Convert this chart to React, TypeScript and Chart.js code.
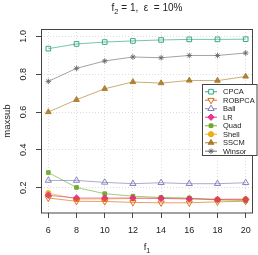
import React, { useEffect, useRef } from 'react';
import { Chart, registerables } from 'chart.js';
Chart.register(...registerables);

const fValues = [6, 8, 10, 12, 14, 16, 18, 20];
const xTickValues = [6, 8, 10, 12, 14, 16, 18, 20];
const yTickValues = [0.2, 0.4, 0.6, 0.8, 1.0];
const yTickLabels = ['0.2', '0.4', '0.6', '0.8', '1.0'];
const seriesNames = ['CPCA', 'ROBPCA', 'Ball', 'LR', 'Quad', 'Shell', 'SSCM', 'Winsor'];

const cpca = [0.935, 0.96, 0.97, 0.976, 0.981, 0.984, 0.984, 0.985];
const robpca = [0.145, 0.128, 0.127, 0.122, 0.12, 0.12, 0.125, 0.128];
const ball = [0.238, 0.238, 0.228, 0.221, 0.226, 0.221, 0.221, 0.226];
const lr = [0.16, 0.145, 0.145, 0.145, 0.143, 0.14, 0.138, 0.138];
const quad = [0.28, 0.201, 0.168, 0.155, 0.148, 0.145, 0.135, 0.132];
const shell = [0.171, 0.14, 0.14, 0.143, 0.145, 0.143, 0.138, 0.14];
const sscm = [0.6, 0.665, 0.723, 0.759, 0.753, 0.767, 0.766, 0.788];
const winsor = [0.762, 0.831, 0.87, 0.891, 0.887, 0.899, 0.899, 0.912];

const seriesValues = [cpca, robpca, ball, lr, quad, shell, sscm, winsor];
const colors = ['27,158,119', '217,95,2', '117,112,179', '231,41,138', '102,166,30', '230,171,2', '166,118,29', '102,102,102'];
const markerStyles = ['rect', 'triangle', 'triangle', 'rectRot', 'rect', 'circle', 'triangle', 'star'];
const markerRotation = [0, 180, 0, 0, 0, 0, 0, 0];
const markerFilled = [false, false, false, true, true, true, true, false];
const markerRadius = [3.3, 3.6, 3.6, 3.2, 2.6, 2.6, 3.3, 2.8];

const FONT = '"Liberation Sans", Arial, Helvetica, sans-serif';
const AXIS = '#444';

function drawMarker(ctx: CanvasRenderingContext2D, i: number, x: number, y: number) {
  const c = colors[i];
  const r = markerRadius[i];
  ctx.save();
  ctx.lineWidth = 1;
  ctx.strokeStyle = `rgba(${c},0.9)`;
  ctx.fillStyle = markerFilled[i] ? `rgba(${c},0.9)` : 'rgba(255,255,255,1)';
  const s = markerStyles[i];
  ctx.beginPath();
  if (s === 'rect') {
    const h = r * Math.SQRT1_2;
    ctx.rect(x - h, y - h, 2 * h, 2 * h);
  } else if (s === 'circle') {
    ctx.arc(x, y, r, 0, Math.PI * 2);
  } else if (s === 'rectRot') {
    ctx.moveTo(x, y - r); ctx.lineTo(x + r, y); ctx.lineTo(x, y + r); ctx.lineTo(x - r, y); ctx.closePath();
  } else if (s === 'triangle') {
    const dir = markerRotation[i] === 180 ? -1 : 1;
    ctx.moveTo(x, y - dir * r);
    ctx.lineTo(x + r * 0.866, y + dir * r * 0.5);
    ctx.lineTo(x - r * 0.866, y + dir * r * 0.5);
    ctx.closePath();
  } else if (s === 'star') {
    ctx.moveTo(x - r, y); ctx.lineTo(x + r, y);
    ctx.moveTo(x, y - r); ctx.lineTo(x, y + r);
    const d = r * 0.707;
    ctx.moveTo(x - d, y - d); ctx.lineTo(x + d, y + d);
    ctx.moveTo(x - d, y + d); ctx.lineTo(x + d, y - d);
    ctx.stroke();
    ctx.restore();
    return;
  }
  ctx.fill();
  ctx.stroke();
  ctx.restore();
}

const rStylePlugin = {
  id: 'rStyle',
  afterDraw(chart: any) {
    const { ctx, chartArea: a, scales } = chart;
    ctx.save();
    // box
    ctx.strokeStyle = AXIS;
    ctx.lineWidth = 1;
    ctx.strokeRect(a.left + 0.5, a.top + 0.5, a.right - a.left - 1, a.bottom - a.top - 0.5);

    // y tick labels (rotated)
    ctx.fillStyle = '#222';
    ctx.font = `9px ${FONT}`;
    ctx.textAlign = 'center';
    ctx.textBaseline = 'middle';
    yTickValues.forEach((v, k) => {
      const y = scales.y.getPixelForValue(v);
      ctx.save();
      ctx.translate(24, y);
      ctx.rotate(-Math.PI / 2);
      ctx.fillText(yTickLabels[k], 0, 0);
      ctx.restore();
    });

    // y axis title
    ctx.save();
    ctx.font = `9.5px ${FONT}`;
    ctx.translate(7, (a.top + a.bottom) / 2);
    ctx.rotate(-Math.PI / 2);
    ctx.fillText('maxsub', 0, 0);
    ctx.restore();

    // x axis title f1
    const cx = (a.left + a.right) / 2;
    ctx.font = `9.5px ${FONT}`;
    ctx.textAlign = 'left';
    ctx.textBaseline = 'alphabetic';
    const fW = ctx.measureText('f').width;
    ctx.font = `7px ${FONT}`;
    const oneW = ctx.measureText('1').width;
    let sx = cx - (fW + oneW) / 2;
    ctx.font = `9.5px ${FONT}`;
    ctx.fillText('f', sx, 250);
    ctx.font = `7px ${FONT}`;
    ctx.fillText('1', sx + fW, 253);

    // title
    ctx.font = `10px ${FONT}`;
    const p1 = 'f';
    const p2 = '2';
    const p3 = ' = 1,  \u03b5  = 10%';
    const w1 = ctx.measureText(p1).width;
    const w3 = ctx.measureText(p3).width;
    ctx.font = `7.5px ${FONT}`;
    const w2 = ctx.measureText(p2).width;
    let tx = cx - (w1 + w2 + w3) / 2;
    ctx.fillStyle = '#222';
    ctx.font = `10px ${FONT}`;
    ctx.fillText(p1, tx, 11);
    ctx.font = `7.5px ${FONT}`;
    ctx.fillText(p2, tx + w1, 14);
    ctx.font = `10px ${FONT}`;
    ctx.fillText(p3, tx + w1 + w2, 11);

    // legend
    const lx = 202, ly = 84, lw = 54.5, lh = 71;
    ctx.fillStyle = '#fff';
    ctx.fillRect(lx, ly, lw, lh);
    ctx.strokeStyle = AXIS;
    ctx.strokeRect(lx + 0.5, ly + 0.5, lw, lh);
    ctx.font = `7.5px ${FONT}`;
    ctx.textBaseline = 'middle';
    ctx.textAlign = 'left';
    seriesNames.forEach((name, i) => {
      const y = ly + 7.7 + i * 8.5;
      ctx.strokeStyle = `rgba(${colors[i]},0.75)`;
      ctx.lineWidth = 1.2;
      ctx.beginPath();
      ctx.moveTo(205, y);
      ctx.lineTo(217, y);
      ctx.stroke();
      drawMarker(ctx, i, 211, y);
      ctx.fillStyle = '#222';
      ctx.fillText(name, 223, y + 0.5);
    });
    ctx.restore();
  },
};

export default function App() {
  const ref = useRef<HTMLCanvasElement | null>(null);
  useEffect(() => {
    document.body.style.margin = '0';
    const canvas = ref.current!;
    const datasets = seriesNames.map((name, i) => ({
      label: name,
      data: fValues.map((f, k) => ({ x: f, y: seriesValues[i][k] })),
      borderColor: `rgba(${colors[i]},0.6)`,
      borderWidth: 1,
      pointStyle: markerStyles[i],
      rotation: markerRotation[i],
      pointRotation: markerRotation[i],
      pointRadius: markerRadius[i],
      pointBorderWidth: 1,
      pointBorderColor: `rgba(${colors[i]},0.85)`,
      pointBackgroundColor: markerFilled[i] ? `rgba(${colors[i]},0.85)` : 'rgba(255,255,255,0)',
      tension: 0,
      fill: false,
    }));
    const chart = new Chart(canvas, {
      type: 'line',
      data: { datasets },
      options: {
        animation: false,
        responsive: false,
        maintainAspectRatio: false,
        devicePixelRatio: 1,
        layout: { padding: { top: 29, right: 1, left: 0, bottom: 0 } },
        plugins: { legend: { display: false }, title: { display: false }, tooltip: { enabled: false } },
        scales: {
          x: {
            type: 'linear',
            min: 5.48,
            max: 20.52,
            afterBuildTicks: (s: any) => { s.ticks = xTickValues.map((v) => ({ value: v })); },
            afterFit: (s: any) => { s.height = 42; },
            ticks: { color: '#222', font: { family: FONT, size: 9 }, padding: 7, maxRotation: 0, autoSkip: false, callback: (v: any) => String(v) },
            grid: { color: '#dddddd', tickColor: AXIS, tickLength: 5, drawTicks: true },
            border: { display: false, dash: [1, 2] },
          },
          y: {
            type: 'linear',
            min: 0.066,
            max: 1.039,
            afterBuildTicks: (s: any) => { s.ticks = yTickValues.map((v) => ({ value: v })); },
            afterFit: (s: any) => { s.width = 41; },
            ticks: { display: false },
            grid: { color: '#dddddd', tickColor: AXIS, tickLength: 5, drawTicks: true },
            border: { display: false, dash: [1, 2] },
          },
        },
      },
      plugins: [rStylePlugin],
    } as any);
    return () => chart.destroy();
  }, []);
  return <canvas ref={ref} width={258} height={255} style={{ display: 'block' }} />;
}
